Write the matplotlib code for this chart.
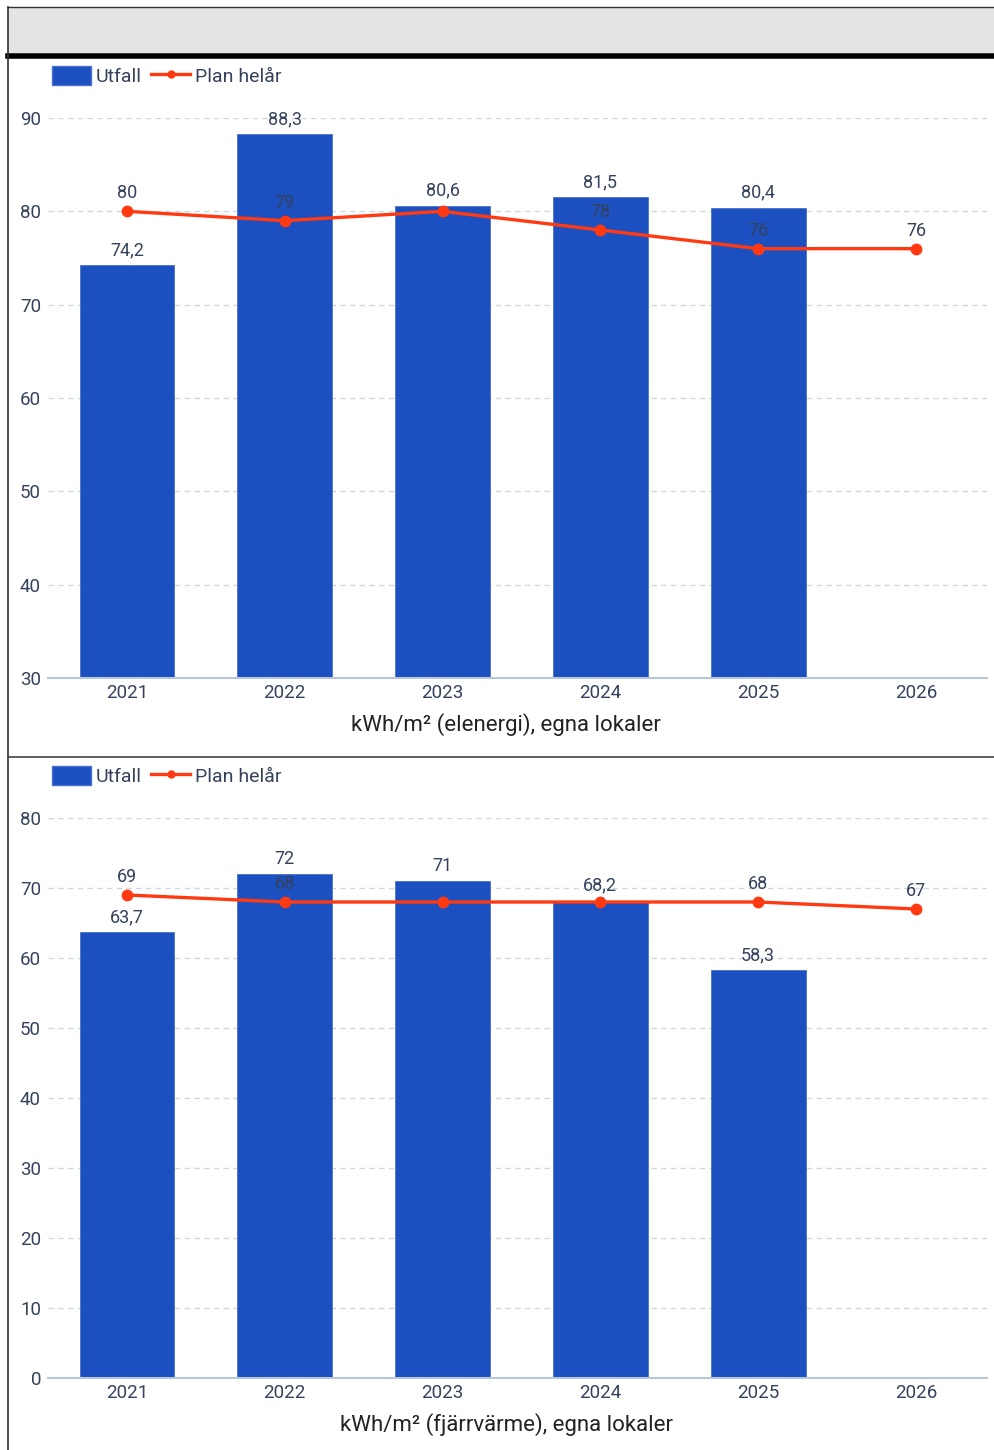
import numpy as np
import matplotlib.pyplot as plt
from matplotlib.patches import Rectangle, Patch
from matplotlib.lines import Line2D

plt.rcParams['font.family'] = ['Roboto', 'DejaVu Sans']

# data
years = ['2021', '2022', '2023', '2024', '2025', '2026']
el_utfall = [74.2, 88.3, 80.6, 81.5, 80.4]
el_plan = [80, 79, 80, 78, 76, 76]
fv_utfall = [63.7, 72, 71, 68.2, 58.3]
fv_plan = [69, 68, 68, 68, 68, 67]
titles = ['kWh/m² (elenergi), egna lokaler', 'kWh/m² (fjärrvärme), egna lokaler']

BLUE = '#1c4fbf'
RED = '#ff3a12'
TXT = '#34425c'
GRID = '#cfd7e2'

W, H = 994, 1450
fig = plt.figure(figsize=(W / 100, H / 100), dpi=100)


def fy(y):
    return 1 - y / H


# frame, gray header, separators
fig.patches.append(Rectangle((8 / W, fy(53)), 1, 46 / H, transform=fig.transFigure,
                             facecolor='#e4e4e4', edgecolor='none'))
fig.add_artist(Line2D([8 / W, 1], [fy(55.5)] * 2, color='black', lw=4))
fig.add_artist(Line2D([8 / W, 1], [fy(7)] * 2, color='#333333', lw=1))
fig.add_artist(Line2D([8 / W] * 2, [fy(7), 0], color='#333333', lw=1.2))
fig.add_artist(Line2D([8 / W, 1], [fy(757)] * 2, color='#444444', lw=1.2))


def fmt(v):
    if float(v).is_integer():
        return str(int(v))
    return ('%.1f' % v).replace('.', ',')


def panel(top_px, bot_px, ymin, ymax, utfall, plan, title, legend_y):
    ax = fig.add_axes([48 / W, fy(bot_px), (987 - 48) / W, (bot_px - top_px) / H])
    x = np.arange(len(years))
    ax.set_axisbelow(True)
    ax.bar(x[:len(utfall)], utfall, width=0.6, color=BLUE, edgecolor='#4a72cc',
           linewidth=0.6, zorder=2)
    ax.plot(x, plan, color=RED, lw=2.4, marker='o', ms=7.5, zorder=3)
    ax.set_xlim(-0.5, 5.45)
    ax.set_ylim(ymin, ymax)
    ppu = (bot_px - top_px) / (ymax - ymin)  # pixels per unit
    for xi, v in zip(x, utfall):
        ax.annotate(fmt(v), (xi, v), xytext=(0, 15), textcoords='offset pixels',
                    ha='center', va='center', fontsize=13, color=TXT, zorder=4)
    for xi, v in zip(x, plan):
        # the library hides a line label that collides with a bar label
        if xi < len(utfall):
            d = (utfall[xi] - v) * ppu + 15 - 18
            if abs(d) < 20:
                continue
        ax.annotate(fmt(v), (xi, v), xytext=(0, 18), textcoords='offset pixels',
                    ha='center', va='center', fontsize=13, color=TXT, zorder=4)
    ax.set_yticks(np.arange(ymin, ymax + 1, 10))
    ax.set_xticks(x)
    ax.set_xticklabels(years)
    ax.grid(axis='y', color=GRID, linestyle=(0, (4, 3)), lw=1)
    for s in ['top', 'right', 'left']:
        ax.spines[s].set_visible(False)
    ax.spines['bottom'].set_color('#b9c6d6')
    ax.spines['bottom'].set_linewidth(1.5)
    ax.tick_params(axis='both', length=0, labelsize=13.5, labelcolor=TXT)
    ax.tick_params(axis='y', pad=5)
    ax.tick_params(axis='x', pad=4)
    ax.set_xlabel(title, fontsize=16, color='#222222')
    ax.xaxis.set_label_coords((506 - 48) / (987 - 48), -47 / (bot_px - top_px))
    ax.xaxis.label.set_va('center')
    handles = [Patch(facecolor=BLUE, edgecolor='#4a72cc'),
               Line2D([0], [0], color=RED, lw=2.4, marker='o', ms=5)]
    fig.legend(handles, ['Utfall', 'Plan helår'], loc='upper left',
               bbox_to_anchor=(38 / W, fy(legend_y)), ncol=2, frameon=False,
               fontsize=14, labelcolor=TXT, handlelength=2.0, handleheight=1.15,
               handletextpad=0.25, columnspacing=0.5, borderaxespad=0.3)
    return ax


panel(118, 678, 30, 90, el_utfall, el_plan, titles[0], 52)
panel(818, 1378, 0, 80, fv_utfall, fv_plan, titles[1], 752)

fig.savefig('out.png', dpi=100)
